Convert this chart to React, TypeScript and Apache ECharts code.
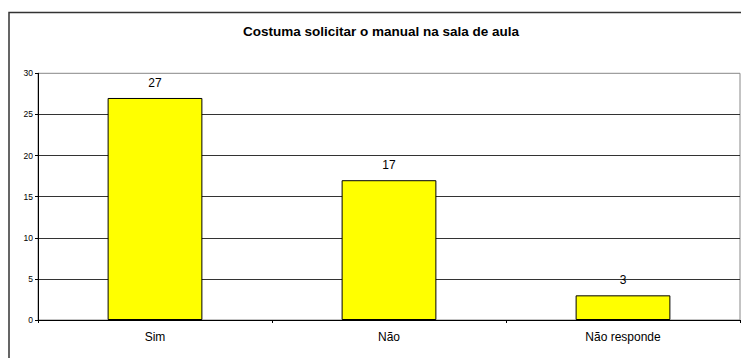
import React, { useEffect, useRef } from "react";
import * as echarts from "echarts";

const titleText = "Costuma solicitar o manual na sala de aula";
const categories = ["Sim", "Não", "Não responde"];
const values = [27, 17, 3];
const yTicks = { min: 0, max: 30, interval: 5 };

export default function App() {
  const ref = useRef<HTMLDivElement>(null);
  useEffect(() => {
    if (!ref.current) return;
    const chart = echarts.init(ref.current, null, { renderer: "svg" });
    const font = "'Liberation Sans', Arial, sans-serif";
    chart.setOption({
      animation: false,
      backgroundColor: "#ffffff",
      title: {
        text: titleText,
        left: 381,
        top: 24,
        padding: 0,
        textAlign: "center",
        textStyle: { fontFamily: font, fontSize: 13.5, fontWeight: "bold", color: "#000" },
      },
      graphic: [
        {
          type: "rect",
          shape: { x: 9, y: 12.5, width: 800, height: 400 },
          style: { fill: "none", stroke: "#333", lineWidth: 1.5 },
          z: 100,
        },
      ],
      grid: {
        left: 38,
        right: 1,
        top: 73.3,
        bottom: 38,
        show: true,
        borderColor: "#888",
        borderWidth: 1,
      },
      xAxis: {
        type: "category",
        data: categories,
        axisLine: { lineStyle: { color: "#000", width: 1 } },
        axisTick: { show: true, length: 3, lineStyle: { color: "#000" } },
        axisLabel: { fontFamily: font, fontSize: 12, color: "#000", margin: 11 },
      },
      yAxis: {
        type: "value",
        min: yTicks.min,
        max: yTicks.max,
        interval: yTicks.interval,
        axisLine: { show: true, lineStyle: { color: "#000", width: 1 } },
        axisTick: { show: true, length: 3, lineStyle: { color: "#000" } },
        axisLabel: { fontFamily: font, fontSize: 8.5, color: "#000", margin: 5 },
        splitLine: { show: true, showMaxLine: false, lineStyle: { color: "#333", width: 1 } },
      },
      series: [
        {
          type: "bar",
          data: values,
          barWidth: "40.5%",
          itemStyle: { color: "#ffff00", borderColor: "#000", borderWidth: 1 },
          label: {
            show: true,
            position: "top",
            distance: 9,
            fontFamily: font,
            fontSize: 12,
            color: "#000",
          },
        },
      ],
    });
    return () => chart.dispose();
  }, []);
  return (
    <div
      ref={ref}
      style={{ position: "fixed", left: 0, top: 0, width: 741, height: 358 }}
    />
  );
}
